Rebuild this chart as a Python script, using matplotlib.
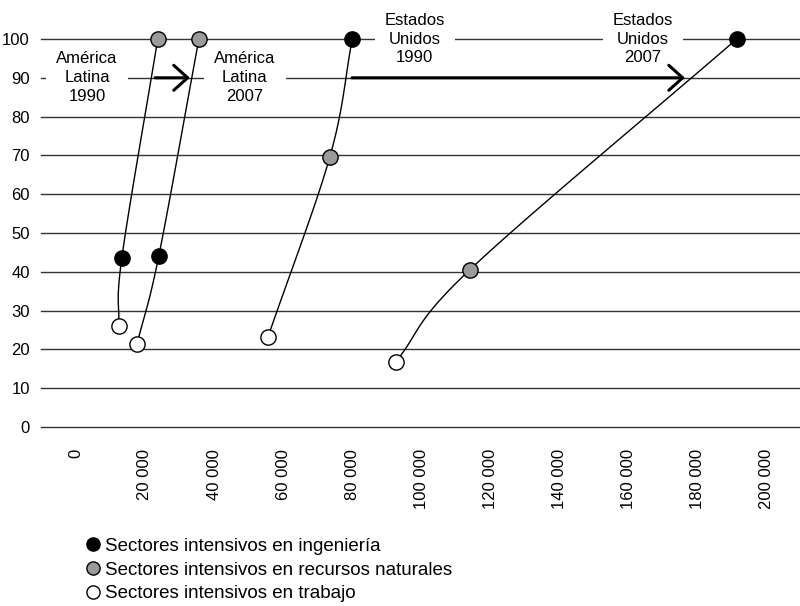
import numpy as np
import matplotlib
matplotlib.use("Agg")
import matplotlib.pyplot as plt
from matplotlib.lines import Line2D

plt.rcParams['font.family'] = ['Liberation Sans', 'DejaVu Sans']

# Data: (x, y) per group
groups = ["América Latina 1990", "América Latina 2007", "Estados Unidos 1990", "Estados Unidos 2007"]
ing_x = [13300, 24000, 80000, 191300]
ing_y = [43.6, 44.1, 100, 100]
rn_x = [23700, 35600, 73500, 114000]
rn_y = [100, 100, 69.6, 40.5]
tr_x = [12400, 17700, 55600, 92600]
tr_y = [26.0, 21.4, 23.2, 16.8]

label_x = [3200, 48900, 98100, 164100]
label_y = [90, 90, 100, 100]
label_txt = ["América\nLatina\n1990", "América\nLatina\n2007", "Estados\nUnidos\n1990", "Estados\nUnidos\n2007"]
arrows = [((22900, 90), (33000, 90)), ((79900, 90), (176300, 90))]

legend_labels = ["Sectores intensivos en ingeniería",
                 "Sectores intensivos en recursos naturales",
                 "Sectores intensivos en trabajo"]
colors = ["black", "#9a9a9a", "white"]

xticks = list(range(0, 200001, 20000))
yticks = list(range(0, 101, 10))

fig = plt.figure(figsize=(8, 6.06), dpi=100)
ax = fig.add_axes([41/800, (606-427)/606, 1-41/800, (427-39)/606])
ax.set_xlim(-10100, 209600)
ax.set_ylim(0, 100)
for s in ax.spines.values():
    s.set_visible(False)
for yv in yticks:
    ax.axhline(yv, color='#333333', lw=1.0, zorder=1, clip_on=False)

def catmull(pts, n=40):
    pts = np.asarray(pts, float)
    P = np.vstack([2*pts[0]-pts[1], pts, 2*pts[-1]-pts[-2]])
    out = []
    for i in range(1, len(P)-2):
        p0, p1, p2, p3 = P[i-1], P[i], P[i+1], P[i+2]
        t = np.linspace(0, 1, n)[:, None]
        seg = 0.5*((2*p1) + (-p0+p2)*t + (2*p0-5*p1+4*p2-p3)*t**2 + (-p0+3*p1-3*p2+p3)*t**3)
        out.append(seg)
    return np.vstack(out)

sx, sy = 20000/69.1, 10/38.8
for i in range(4):
    pts = sorted([(tr_x[i], tr_y[i]), (ing_x[i], ing_y[i]), (rn_x[i], rn_y[i])], key=lambda p: p[1])
    pn = [(p[0]/sx, p[1]/sy) for p in pts]
    c = catmull(pn)
    ax.plot(c[:, 0]*sx, c[:, 1]*sy, color='black', lw=1.0, zorder=3, clip_on=False)

ms = 11
ax.plot(ing_x, ing_y, 'o', ms=ms, mfc=colors[0], mec='black', mew=1, ls='none', zorder=5, clip_on=False)
ax.plot(rn_x, rn_y, 'o', ms=ms, mfc=colors[1], mec='black', mew=1, ls='none', zorder=5, clip_on=False)
ax.plot(tr_x, tr_y, 'o', ms=ms, mfc=colors[2], mec='black', mew=1, ls='none', zorder=5, clip_on=False)

for x, y, t in zip(label_x, label_y, label_txt):
    ax.text(x, y, t, ha='center', va='center', fontsize=12, linespacing=1.32, zorder=4,
            bbox=dict(boxstyle='square,pad=0.6', fc='white', ec='none'))

for (x0, y0), (x1, y1) in arrows:
    ax.annotate('', xy=(x1, y1), xytext=(x0, y0),
                arrowprops=dict(arrowstyle='->,head_length=0.5,head_width=0.45', lw=2.2,
                                color='black', shrinkA=0, shrinkB=0, mutation_scale=20),
                zorder=4)

ax.set_xticks(xticks)
ax.set_xticklabels([f"{v:,}".replace(",", " ") for v in xticks], rotation=90, fontsize=12)
ax.set_yticks(yticks)
ax.set_yticklabels([str(v) for v in yticks], fontsize=12)
ax.tick_params(axis='x', length=0, pad=16)
ax.tick_params(axis='y', length=0, pad=8)

handles = [Line2D([], [], marker='o', ls='none', ms=9.5, mfc=c, mec='black', mew=1) for c in colors]
fig.legend(handles, legend_labels, loc='upper left', bbox_to_anchor=(0.1075, 0.113),
           frameon=False, fontsize=13.5, handlelength=0.7, handletextpad=0.3,
           labelspacing=0.36, borderpad=0, borderaxespad=0)

fig.savefig('out.png', dpi=100)
